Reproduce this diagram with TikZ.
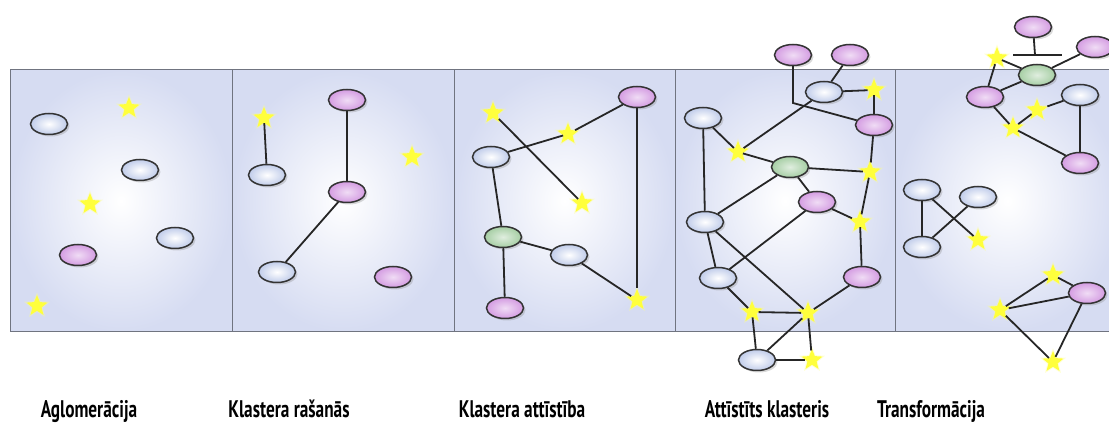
\documentclass[tikz,border=0pt]{standalone}
\usepackage{fontspec}
\newfontfamily\lblfont{PT Sans}[FakeStretch=0.72]
\usetikzlibrary{shapes.geometric,shadows}
\definecolor{panelblue}{RGB}{214,220,242}
\definecolor{bluefill}{RGB}{192,204,234}
\definecolor{pinkfill}{RGB}{212,156,226}
\definecolor{greenfill}{RGB}{166,206,164}
\definecolor{staryellow}{RGB}{255,255,60}
\definecolor{framegray}{RGB}{112,116,128}

\begin{document}
\begin{tikzpicture}[x=1pt,y=-1pt,
    blob/.style={ellipse, draw=black!80, line width=1.5pt, minimum width=37pt, minimum height=21pt, inner sep=0pt,
        drop shadow={shadow xshift=2pt, shadow yshift=-2pt, opacity=.3}},
    blu/.style={blob, inner color=white, outer color=bluefill},
    pnk/.style={blob, inner color=pinkfill!35, outer color=pinkfill},
    grn/.style={blob, inner color=greenfill!35, outer color=greenfill},
    ystar/.style={star, star points=5, star point ratio=2.3, minimum size=22pt, inner sep=0pt, fill=staryellow,
        preaction={draw=staryellow!60, line width=2pt, opacity=.35}},
    link/.style={line width=1.8pt, black!85},
    lbl/.style={font=\lblfont\bfseries\fontsize{24}{28}\selectfont, anchor=base}]

    \clip (0,0) rectangle (1109,427);
    \foreach \xa/\xb in {10/232,232/454,454/675,675/895,895/1120}
        \shade[inner color=white, outer color=panelblue] (\xa,70) rectangle (\xb,332);
    \draw[framegray, line width=1pt] (1120,70) -- (10,70) -- (10,332) -- (1120,332);
    \foreach \xs in {232,454,675,895}
        \draw[framegray, line width=1pt] (\xs,70) -- (\xs,332);

    \node[blu] (a1) at (49,124) {};
    \node[ystar] (a2) at (129,108) {};
    \node[blu] (a3) at (140,170) {};
    \node[ystar] (a4) at (90,204) {};
    \node[blu] (a5) at (175,238) {};
    \node[pnk] (a6) at (78,255) {};
    \node[ystar] (a7) at (37,306) {};

    \node[ystar] (b1) at (264,118) {};
    \node[blu] (b2) at (267,175) {};
    \node[pnk] (b3) at (347,100) {};
    \node[pnk] (b4) at (347,192) {};
    \node[ystar] (b5) at (412,157) {};
    \node[blu] (b6) at (277,272) {};
    \node[pnk] (b7) at (393,277) {};
    \draw[link] (b1) -- (b2);
    \draw[link] (b3) -- (b4);
    \draw[link] (b4) -- (b6);

    \node[pnk] (c1) at (637,97) {};
    \node[ystar] (c2) at (493,113) {};
    \node[ystar] (c3) at (568,134) {};
    \node[blu] (c4) at (491,157) {};
    \node[ystar] (c5) at (582,203) {};
    \node[grn] (c6) at (503,237) {};
    \node[blu] (c7) at (569,255) {};
    \node[pnk] (c8) at (505,308) {};
    \node[ystar] (c9) at (637,300) {};
    \draw[link] (c4) -- (c3) -- (c1);
    \draw[link] (c2) -- (c5);
    \draw[link] (c4) -- (c6);
    \draw[link] (c6) -- (c8);
    \draw[link] (c6) -- (c7);
    \draw[link] (c7) -- (c9);
    \draw[link] (c1) -- (c9);

    \node[pnk] (d1) at (793,55) {};
    \node[pnk] (d2) at (850,55) {};
    \node[blu] (d3) at (824,92) {};
    \node[ystar] (d4) at (874,90) {};
    \node[pnk] (d5) at (874,125) {};
    \node[blu] (d6) at (703,118) {};
    \node[ystar] (d7) at (738,152) {};
    \node[grn] (d8) at (790,167) {};
    \node[ystar] (d9) at (870,172) {};
    \node[pnk] (d10) at (817,202) {};
    \node[ystar] (d11) at (860,222) {};
    \node[blu] (d12) at (705,222) {};
    \node[blu] (d13) at (718,278) {};
    \node[pnk] (d14) at (862,277) {};
    \node[ystar] (d15) at (752,312) {};
    \node[ystar] (d16) at (808,313) {};
    \node[blu] (d17) at (757,360) {};
    \node[ystar] (d18) at (812,360) {};
    \coordinate (dj) at (793,103);
    \draw[link] (d1) -- (dj) -- (d5);
    \draw[link] (d7) -- (d3);
    \draw[link] (d2) -- (d3);
    \draw[link] (d3) -- (d4);
    \draw[link] (d4) -- (d5);
    \draw[link] (d6) -- (d7);
    \draw[link] (d6) -- (d12);
    \draw[link] (d7) -- (d8);
    \draw[link] (d8) -- (d9);
    \draw[link] (d5) -- (d9);
    \draw[link] (d8) -- (d10);
    \draw[link] (d8) -- (d12);
    \draw[link] (d10) -- (d11);
    \draw[link] (d9) -- (d11);
    \draw[link] (d11) -- (d14);
    \draw[link] (d10) -- (d13);
    \draw[link] (d12) -- (d13);
    \draw[link] (d12) -- (d16);
    \draw[link] (d13) -- (d15);
    \draw[link] (d15) -- (d16);
    \draw[link] (d14) -- (d16);
    \draw[link] (d15) -- (d17);
    \draw[link] (d16) -- (d17);
    \draw[link] (d16) -- (d18);
    \draw[link] (d17) -- (d18);

    \node[pnk] (e1) at (1033,27) {};
    \node[pnk] (e2) at (1095,47) {};
    \node[ystar] (e3) at (997,58) {};
    \node[grn] (e4) at (1037,75) {};
    \node[pnk] (e5) at (985,97) {};
    \node[blu] (e6) at (1080,95) {};
    \node[ystar] (e7) at (1037,110) {};
    \node[ystar] (e8) at (1013,128) {};
    \node[pnk] (e9) at (1080,163) {};
    \node[blu] (e10) at (922,190) {};
    \node[blu] (e11) at (978,197) {};
    \node[blu] (e12) at (922,247) {};
    \node[ystar] (e13) at (978,240) {};
    \node[ystar] (e14) at (1053,275) {};
    \node[pnk] (e15) at (1087,293) {};
    \node[ystar] (e16) at (1000,310) {};
    \node[ystar] (e17) at (1053,362) {};
    \coordinate (ej) at (1035,55);
    \coordinate (el) at (1013,55);
    \coordinate (er) at (1062,55);
    \draw[link] (e1) -- (ej);
    \draw[link] (el) -- (er);
    \draw[link] (e3) -- (e4);
    \draw[link] (e3) -- (e5);
    \draw[link] (e4) -- (e2);
    \draw[link] (e4) -- (e5);
    \draw[link] (e5) -- (e8);
    \draw[link] (e8) -- (e7) -- (e6);
    \draw[link] (e8) -- (e9);
    \draw[link] (e6) -- (e9);
    \draw[link] (e10) -- (e12);
    \draw[link] (e10) -- (e13);
    \draw[link] (e12) -- (e11);
    \draw[link] (e14) -- (e15);
    \draw[link] (e16) -- (e14);
    \draw[link] (e16) -- (e15);
    \draw[link] (e16) -- (e17);
    \draw[link] (e15) -- (e17);

    \node[lbl] (l1) at (89,418) {Aglomerācija};
    \node[lbl] (l2) at (289,418) {Klastera rašanās};
    \node[lbl] (l3) at (522,418) {Klastera attīstība};
    \node[lbl] (l4) at (767,418) {Attīstīts klasteris};
    \node[lbl] (l5) at (931,418) {Transformācija};
\end{tikzpicture}
\end{document}
